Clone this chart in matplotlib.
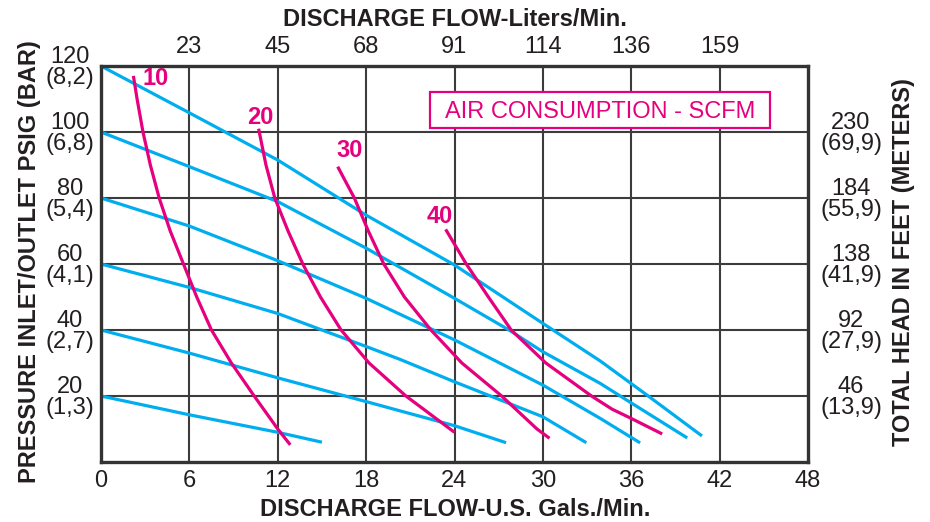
import matplotlib
matplotlib.use('Agg')
import matplotlib.pyplot as plt
import matplotlib.patches as patches

plt.rcParams['font.family'] = ['Liberation Sans', 'DejaVu Sans']

# discharge flow (US GPM) vs pressure (psig), one blue line per inlet pressure
p20_x = [0, 6, 12, 15]
p20_y = [20, 14.3, 9, 6]
p40_x = [0, 6, 12, 18, 24, 27.5]
p40_y = [40, 33, 25.5, 18.3, 11, 5.85]
p60_x = [0, 6, 12, 18, 20.3, 24, 30, 32.95]
p60_y = [60, 52.9, 45, 35, 31.1, 24.3, 13.7, 5.85]
p80_x = [0, 6, 12, 18, 24, 30, 33.9, 36.6]
p80_y = [80, 71.5, 61, 49.6, 37, 23.3, 13.2, 5.8]
p100_x = [0, 6, 12, 18, 24, 27.7, 30, 33.9, 36, 39.8]
p100_y = [100, 89.5, 78.9, 64.8, 49.6, 40, 33.4, 23.8, 17.9, 7.3]
p120_x = [0, 6, 12, 18, 24, 30, 33.9, 37, 40.8]
p120_y = [120, 105.8, 91.5, 74.8, 59.7, 42, 30.6, 20.5, 7.9]

# air consumption curves (SCFM)
a10_x = [2.2, 2.45, 2.85, 3.35, 3.95, 4.7, 5.6, 6.5, 7.5, 8.85, 10.4, 12.0, 12.85]
a10_y = [117, 110, 100, 90, 80, 70, 60, 50, 40, 30, 20, 10, 5.2]
a20_x = [10.7, 11.2, 11.8, 12.7, 13.7, 14.9, 16.3, 18.2, 20.7, 24]
a20_y = [101, 90, 80, 70, 60, 50, 40, 30, 20, 9]
a30_x = [16.07, 17.2, 18.15, 19.2, 20.6, 22.4, 24.5, 27.2, 29.6, 30.45]
a30_y = [89.5, 80, 70, 60, 50, 40, 30, 20, 10, 7.2]
a40_x = [23.4, 24.8, 26.3, 27.85, 30.2, 33.3, 34.7, 36, 38.1]
a40_y = [70.5, 60, 50, 40, 30, 20, 16, 13.2, 8.5]
scfm_labels = ['10', '20', '30', '40']
scfm_label_x = [3.72, 10.81, 16.86, 22.98]
scfm_label_y = [116.3, 104.5, 94.3, 74.5]

gpm_ticks = [0, 6, 12, 18, 24, 30, 36, 42, 48]
lpm_ticks = [6, 12, 18, 24, 30, 36, 42]
lpm_labels = ['23', '45', '68', '91', '114', '136', '159']
psi_ticks = [20, 40, 60, 80, 100, 120]
bar_labels = ['(1,3)', '(2,7)', '(4,1)', '(5,4)', '(6,8)', '(8,2)']
head_ticks = [20, 40, 60, 80, 100]
feet_labels = ['46', '92', '138', '184', '230']
meter_labels = ['(13,9)', '(27,9)', '(41,9)', '(55,9)', '(69,9)']

BLUE = '#00aeef'
MAG = '#e6007e'
TXT = '#231f20'
GRID = '#3c3c3c'

W, H = 930, 522
fig = plt.figure(figsize=(W / 100, H / 100), dpi=100)
ax = fig.add_axes([101 / W, 1 - 462 / H, (808 - 101) / W, (462 - 66) / H])
ax.set_xlim(0, 48)
ax.set_ylim(0, 120)

for x in gpm_ticks[1:-1]:
    ax.axvline(x, color=GRID, lw=1.5, zorder=1)
for y in psi_ticks[:-1]:
    ax.axhline(y, color=GRID, lw=1.5, zorder=1)

for xs, ys in [(p20_x, p20_y), (p40_x, p40_y), (p60_x, p60_y),
               (p80_x, p80_y), (p100_x, p100_y), (p120_x, p120_y)]:
    ax.plot(xs, ys, color=BLUE, lw=2.3, zorder=3, solid_capstyle='butt',
            solid_joinstyle='round')

for xs, ys in [(a10_x, a10_y), (a20_x, a20_y), (a30_x, a30_y), (a40_x, a40_y)]:
    ax.plot(xs, ys, color=MAG, lw=2.3, zorder=4, solid_capstyle='butt',
            solid_joinstyle='round')
for lab, lx, ly in zip(scfm_labels, scfm_label_x, scfm_label_y):
    ax.text(lx, ly, lab, ha='center', va='center', color=MAG, fontsize=17,
            fontweight='bold', zorder=5)

# legend box
ax.add_patch(patches.Rectangle((22.35, 101.1), 23.1, 11.1, facecolor='white',
                               edgecolor=MAG, lw=1.6, zorder=5))
ax.text(33.9, 106.2, 'AIR CONSUMPTION - SCFM', color=MAG, fontsize=17,
        ha='center', va='center', zorder=6)

for s in ax.spines.values():
    s.set_linewidth(2.4)
    s.set_color('#333333')
    s.set_zorder(6)

ax.set_xticks(gpm_ticks)
ax.set_xticklabels([str(v) for v in gpm_ticks], fontsize=17, color=TXT)
ax.tick_params(axis='x', length=0, pad=6)
ax.set_yticks([])

top = ax.secondary_xaxis('top')
top.set_xticks(lpm_ticks)
top.set_xticklabels(lpm_labels, fontsize=17, color=TXT)
top.tick_params(length=0, pad=6)
for s in top.spines.values():
    s.set_visible(False)

ylab = ax.get_yaxis_transform()
for y, b in zip(psi_ticks, bar_labels):
    ax.annotate(str(y), (0, y), xycoords=ylab, xytext=(-31, 9),
                textcoords='offset pixels', ha='center', va='center',
                fontsize=17, color=TXT)
    ax.annotate(b, (0, y), xycoords=ylab, xytext=(-31, -12),
                textcoords='offset pixels', ha='center', va='center',
                fontsize=17, color=TXT)
for y, f, m in zip(head_ticks, feet_labels, meter_labels):
    ax.annotate(f, (1, y), xycoords=ylab, xytext=(43, 9),
                textcoords='offset pixels', ha='center', va='center',
                fontsize=17, color=TXT)
    ax.annotate(m, (1, y), xycoords=ylab, xytext=(43, -12),
                textcoords='offset pixels', ha='center', va='center',
                fontsize=17, color=TXT)

fig.text(455 / W, 1 - 20 / H, 'DISCHARGE FLOW-Liters/Min.', ha='center',
         va='center', fontsize=17, fontweight='bold', color=TXT)
fig.text(455 / W, 1 - 510 / H, 'DISCHARGE FLOW-U.S. Gals./Min.', ha='center',
         va='center', fontsize=17, fontweight='bold', color=TXT)
fig.text(30 / W, 1 - 262 / H, 'PRESSURE INLET/OUTLET PSIG (BAR)', ha='center',
         va='center', rotation=90, fontsize=17, fontweight='bold', color=TXT)
fig.text(903 / W, 1 - 262 / H, 'TOTAL HEAD IN FEET (METERS)', ha='center',
         va='center', rotation=90, fontsize=17, fontweight='bold', color=TXT)

fig.savefig('out.png', dpi=100)
